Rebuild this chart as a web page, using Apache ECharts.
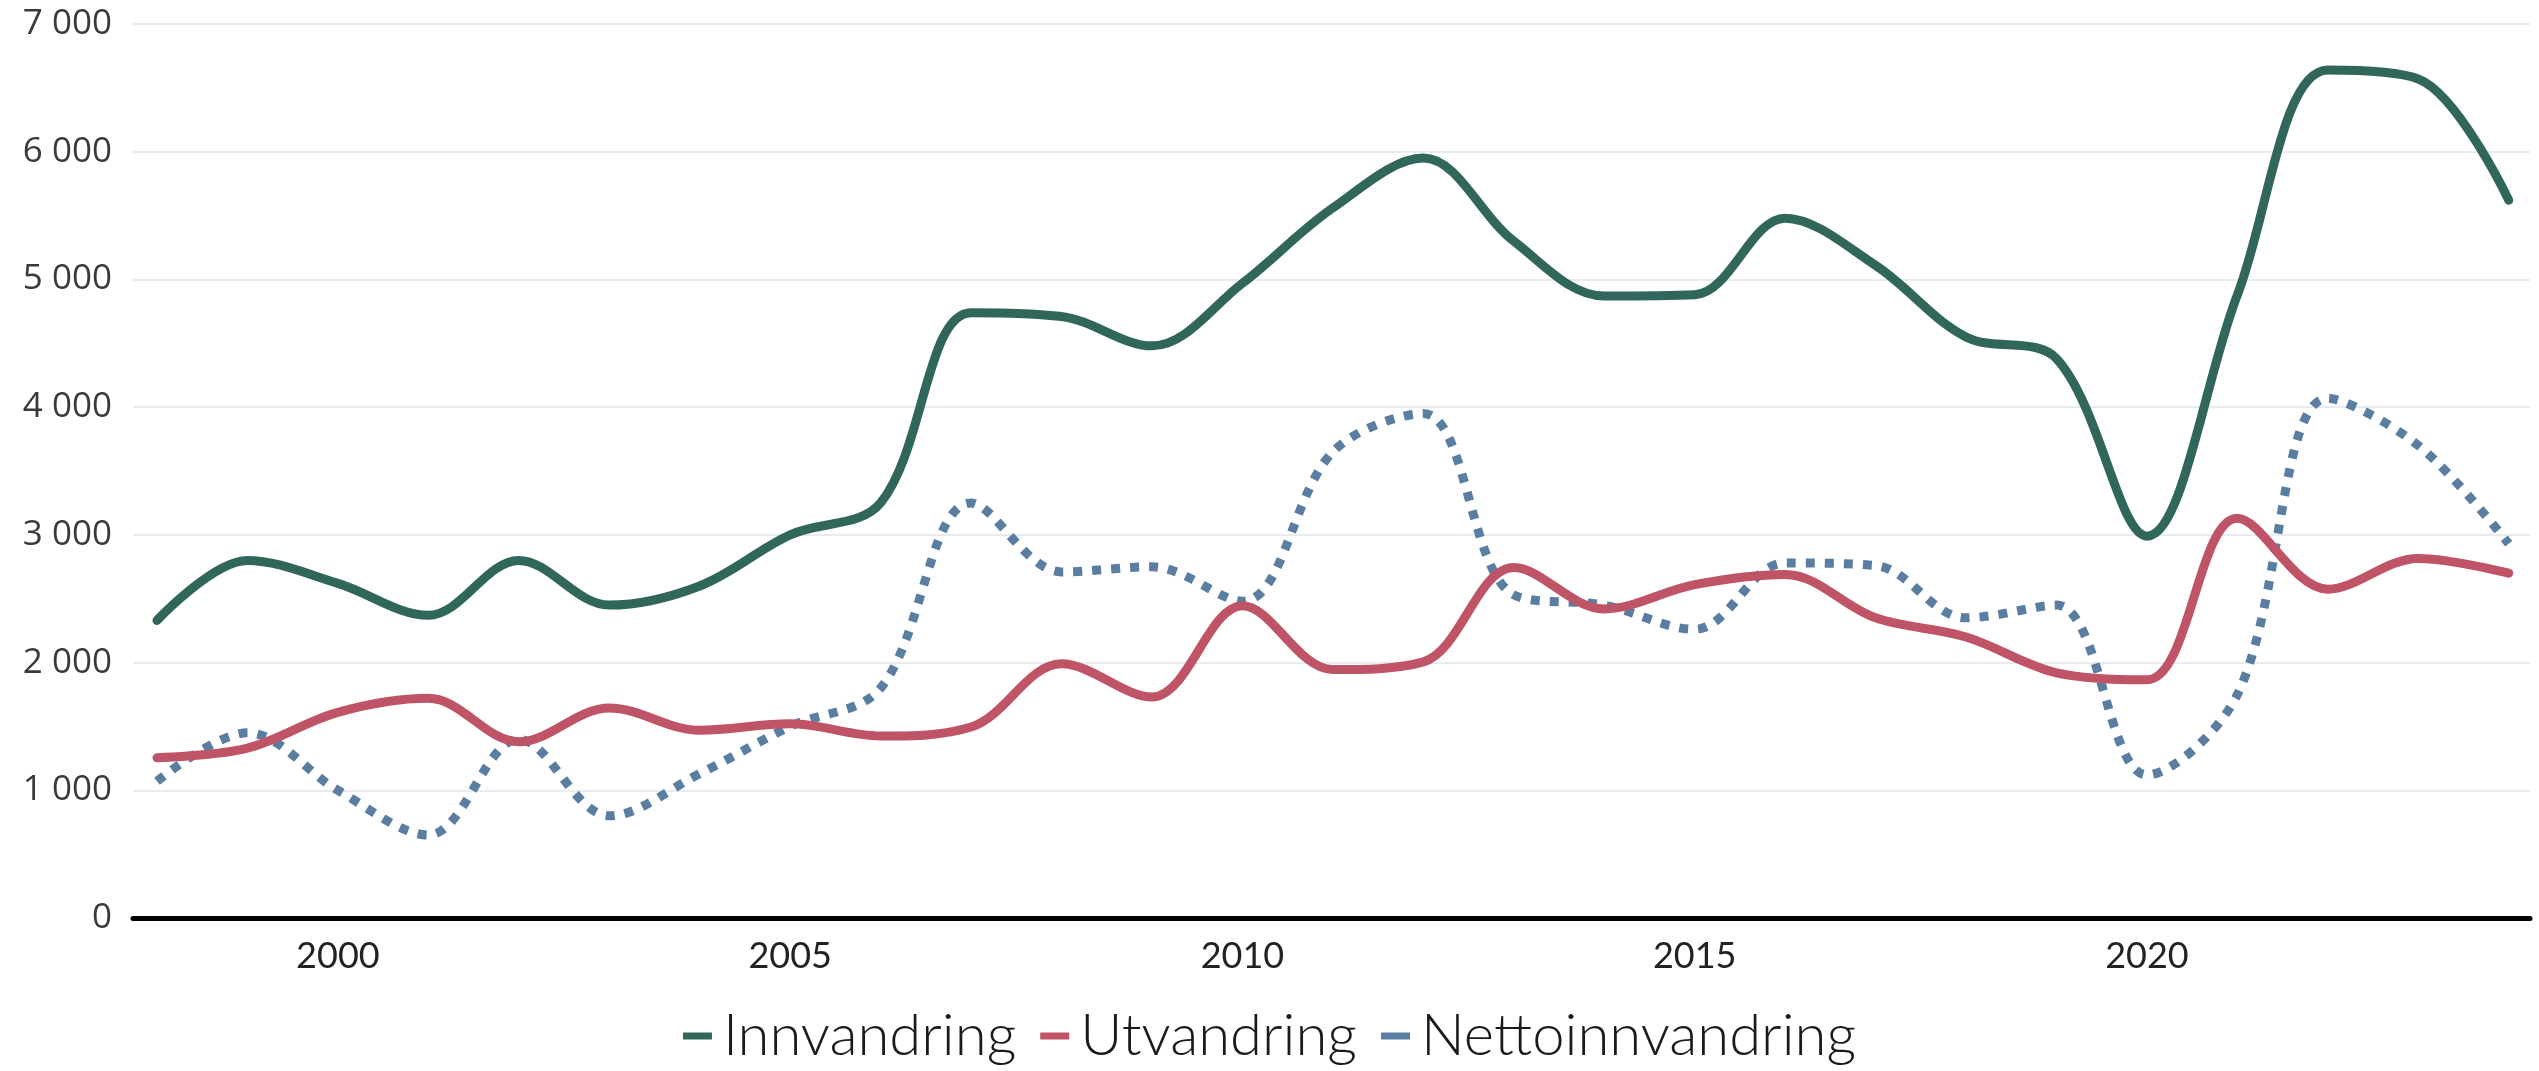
<!DOCTYPE html>
<html>
<head>
<meta charset="utf-8">
<script src="https://cdn.jsdelivr.net/npm/echarts@6/dist/echarts.min.js"></script>
<style>
html, body { margin: 0; padding: 0; background: #fff; }
#main { width: 2539px; height: 1071px; }
</style>
</head>
<body>
<div id="main"></div>
<script>
var years = [1998, 1999, 2000, 2001, 2002, 2003, 2004, 2005, 2006, 2007, 2008, 2009, 2010,
    2011, 2012, 2013, 2014, 2015, 2016, 2017, 2018, 2019, 2020, 2021, 2022, 2023, 2024];
var innvandring = [2330, 2800, 2620, 2370, 2800, 2450, 2600, 3000, 3250, 4740, 4710, 4480, 4970,
    5560, 5950, 5300, 4870, 4880, 5480, 5110, 4550, 4380, 2990, 4880, 6640, 6570, 5620];
var utvandring = [1255, 1330, 1610, 1720, 1380, 1645, 1470, 1520, 1425, 1495, 1990, 1730, 2445,
    1945, 2005, 2745, 2420, 2610, 2690, 2350, 2200, 1920, 1865, 3130, 2575, 2815, 2700];
var netto = [1070, 1450, 1000, 650, 1400, 800, 1130, 1500, 1800, 3250, 2710, 2750, 2480,
    3650, 3950, 2530, 2450, 2260, 2780, 2760, 2350, 2450, 1120, 1750, 4070, 3700, 2930];
var seriesNames = ['Innvandring', 'Utvandring', 'Nettoinnvandring'];
var colors = ['#30675a', '#bf5467', '#5a7ea1'];

function pairs(values) {
    return years.map(function (y, i) { return [y, values[i]]; });
}

var myChart = echarts.init(document.getElementById('main'));
myChart.setOption({
    animation: false,
    color: colors,
    grid: { left: 133, right: 9, top: 24, bottom: 153 },
    legend: {
        top: 1002,
        left: 'center',
        icon: 'rect',
        itemWidth: 29,
        itemHeight: 7,
        itemGap: 24,
        itemStyle: { borderWidth: 0 },
        textStyle: { fontFamily: 'Lato', fontSize: 58, fontWeight: 300, color: '#1a1a1a', padding: [0, 0, 0, 6] },
        data: seriesNames
    },
    xAxis: {
        type: 'value',
        min: 1997.735,
        max: 2024.235,
        axisLine: { show: true, lineStyle: { color: '#000', width: 5, cap: 'round' } },
        axisTick: { show: false },
        splitLine: { show: false },
        axisLabel: {
            margin: 20,
            fontFamily: 'Lato',
            fontSize: 36,
            color: '#222',
            showMinLabel: false,
            showMaxLabel: false,
            formatter: function (v) { return v % 5 === 0 ? String(v) : ''; }
        }
    },
    yAxis: {
        type: 'value',
        min: 0,
        max: 7000,
        interval: 1000,
        axisLine: { show: false },
        axisTick: { show: false },
        splitLine: { lineStyle: { color: '#e8ebf0', width: 2 } },
        axisLabel: {
            margin: 21,
            fontFamily: 'Open Sans',
            fontSize: 35,
            color: '#3a3a3a',
            formatter: function (v) { return String(v).replace(/\B(?=(\d{3})+(?!\d))/g, ' '); }
        }
    },
    series: [
        {
            name: seriesNames[0], type: 'line', smooth: 0.35, showSymbol: false,
            data: pairs(innvandring),
            lineStyle: { width: 9, cap: 'round', join: 'round' }, z: 3
        },
        {
            name: seriesNames[1], type: 'line', smooth: 0.35, showSymbol: false,
            data: pairs(utvandring),
            lineStyle: { width: 9, cap: 'round', join: 'round' }, z: 4
        },
        {
            name: seriesNames[2], type: 'line', smooth: 0.35, showSymbol: false,
            data: pairs(netto),
            lineStyle: { width: 9, type: [9, 10], cap: 'butt' }, z: 2
        }
    ]
});
</script>
</body>
</html>
